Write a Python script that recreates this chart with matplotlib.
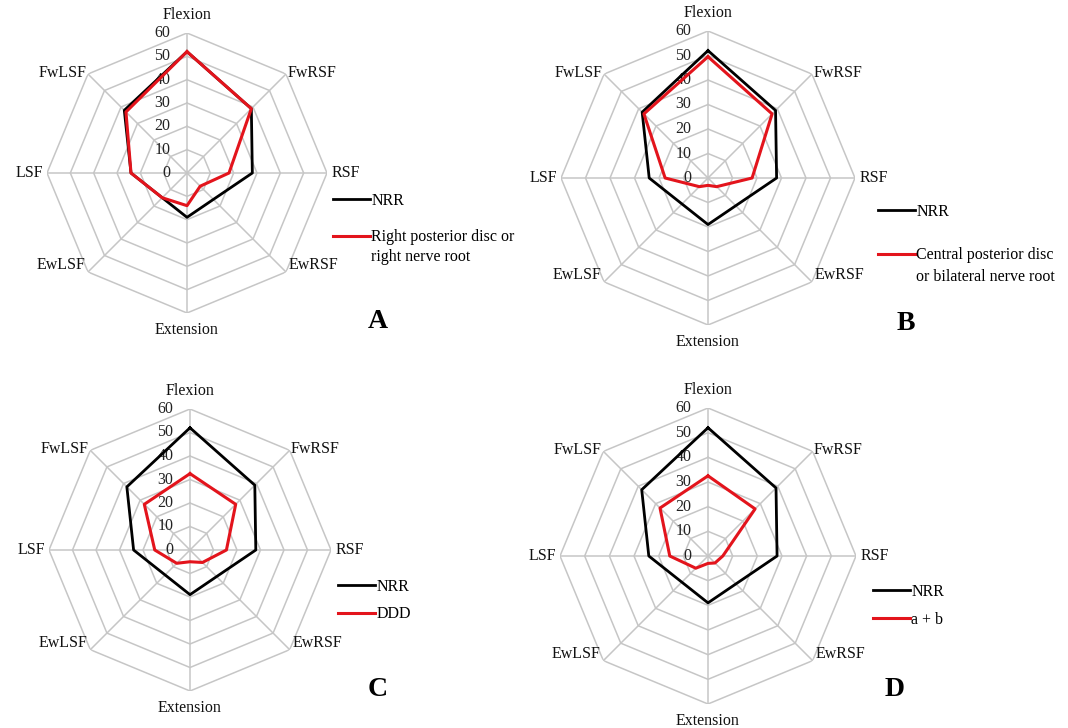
import numpy as np
import matplotlib.pyplot as plt

plt.rcParams['font.family'] = ['Liberation Serif', 'DejaVu Serif']

# radar chart of trunk motion per group
categories = ['Flexion', 'FwRSF', 'RSF', 'EwRSF', 'Extension', 'EwLSF', 'LSF', 'FwLSF']
levels = [0, 10, 20, 30, 40, 50, 60]

nrr = [52, 39, 28, 16, 19, 15, 24, 38]
right_disc = [52, 39, 18, 8, 14, 15, 24, 37]
central_disc = [49.5, 37, 18, 5, 3, 5, 17.5, 37]
ddd = [32.5, 27.5, 15.5, 7.5, 5, 8, 15, 27.5]
a_plus_b = [32.5, 27, 6, 4, 3, 7, 15.5, 27.5]

panels = [
    ('A', right_disc, ['Right posterior disc or', 'right nerve root']),
    ('B', central_disc, ['Central posterior disc', 'or bilateral nerve root']),
    ('C', ddd, ['DDD']),
    ('D', a_plus_b, ['a + b']),
]

# label placement: offset in points, ha, va
label_pos = [((0, 13), 'center', 'center'),
             ((1, 1), 'left', 'center'),
             ((3, 0), 'left', 'center'),
             ((2, 5), 'left', 'center'),
             ((0, -12), 'center', 'center'),
             ((-2, 5), 'right', 'center'),
             ((-3, 0), 'right', 'center'),
             ((-1, 1), 'right', 'center')]

W, H = 1068, 728
fig = plt.figure(figsize=(W / 100, H / 100), dpi=100)

# centre (px), radius (px), legend anchor (px), label spacing, letter pos, gap of 2nd line
layout = [((187, 173), 140, (333, 193), 1.27, (378, 322), 4),
          ((708, 178), 147, (878, 204), 1.71, (906, 323), 6),
          ((190, 550), 141, (338, 579), 0.72, (378, 690), 0),
          ((708, 556), 148, (873, 584), 0.72, (895, 690), 0)]

theta = np.linspace(0, 2 * np.pi, len(categories), endpoint=False)
theta_closed = np.append(theta, theta[0])

legends = []
for (letter, values, label), (c, R, leg, spacing, lpos, gap) in zip(panels, layout):
    ax = fig.add_axes([(c[0] - R) / W, (H - c[1] - R) / H, 2 * R / W, 2 * R / H],
                      projection='polar')
    ax.set_theta_zero_location('N')
    ax.set_theta_direction(-1)
    ax.set_ylim(0, 60)
    ax.grid(False)
    ax.set_xticks([])
    ax.set_yticks([])
    ax.spines['polar'].set_visible(False)
    ax.patch.set_visible(False)

    for lev in levels[1:]:
        ax.plot(theta_closed, [lev] * len(theta_closed), color='#c6c6c6', lw=1.1, zorder=1)
    for t in theta:
        ax.plot([t, t], [0, 60], color='#c6c6c6', lw=1.1, zorder=1)

    for lev in levels:
        ax.annotate(str(lev), (0, lev), xytext=(-12, 0), textcoords='offset points',
                    ha='right', va='center', fontsize=11.5, color='#222222', zorder=2)

    for t, name, (off, ha, va) in zip(theta, categories, label_pos):
        ax.annotate(name, (t, 60), xytext=off, textcoords='offset points',
                    ha=ha, va=va, fontsize=11.5, color='#111111')

    l1, = ax.plot(theta_closed, nrr + nrr[:1], color='black', lw=2, zorder=3, label='NRR')
    l2, = ax.plot(theta_closed, values + values[:1], color='#e3141c', lw=2.2, zorder=4,
                  label=label[0])

    lg = fig.legend(handles=[l1, l2], loc='upper left',
                    bbox_to_anchor=(leg[0] / W, 1 - leg[1] / H), frameon=False,
                    handlelength=2.3, handletextpad=0.1, labelspacing=spacing,
                    borderpad=0, borderaxespad=0, fontsize=11.5)
    legends.append((lg, label[1:], gap))

    fig.text(lpos[0] / W, 1 - lpos[1] / H, letter, fontsize=20, fontweight='bold',
             ha='center', va='center')

# second line of the long legend labels sits under the first line
fig.canvas.draw()
for lg, extra, gap in legends:
    if extra:
        bb = lg.get_texts()[1].get_window_extent()
        fig.text(bb.x0 / W, (bb.y0 - gap) / H, extra[0], fontsize=11.5,
                 ha='left', va='top')

fig.savefig('out.png', dpi=100)
